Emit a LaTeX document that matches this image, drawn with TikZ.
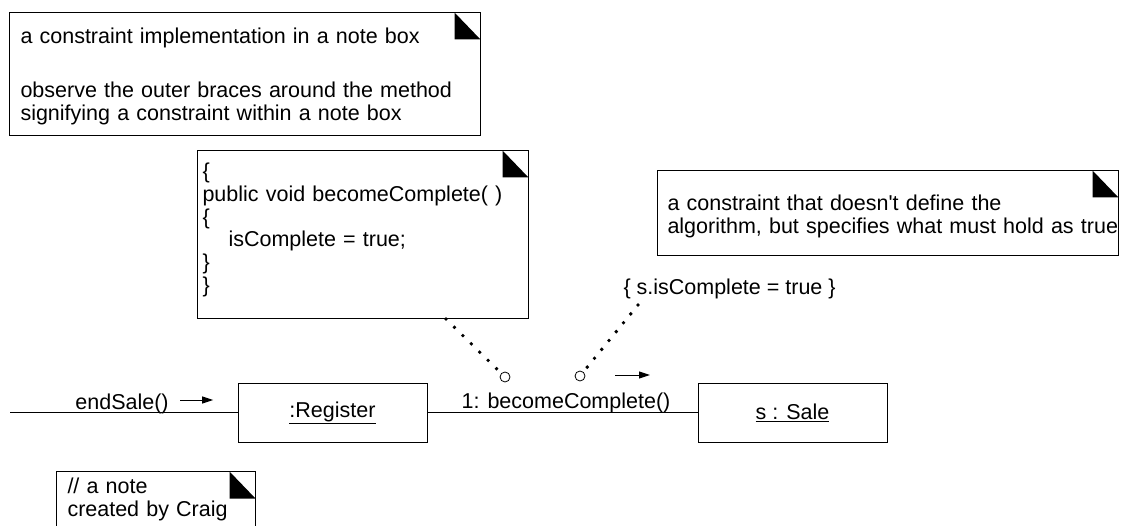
\documentclass[tikz,border=0pt]{standalone}
\usepackage{fontspec}
\setmainfont{Liberation Sans}
\usetikzlibrary{arrows.meta,calc,positioning}

\tikzset{
  every node/.style={font=\fontsize{21.5pt}{22.8pt}\selectfont},
  note/.style={draw, anchor=north west, inner ysep=0pt, align=left,
    path picture={\fill (path picture bounding box.north east) ++(-26pt,0pt)
      -- ++(0pt,-27pt) -- ++(26pt,0pt) -- cycle;}},
  object/.style={draw, minimum width=189pt, minimum height=59pt, inner sep=0pt},
  lbl/.style={inner sep=0pt},
  pin/.style={circle, draw, line width=0.8pt, minimum size=10pt, inner sep=0pt}
}

\begin{document}
\begin{tikzpicture}[x=1pt,y=-1pt,line width=1pt,>={Triangle[length=11pt,width=7pt]}]
  \useasboundingbox (0,0) rectangle (1132,526);
  \node[note, text width=449pt, inner xsep=11pt, text height=31pt, text depth=92pt] (implnote) at (9,12)
    {a constraint implementation in a note box\\[31.2pt]
     observe the outer braces around the method\\
     signifying a constraint within a note box};
  \node[note, text width=321pt, inner xsep=5pt, text height=28pt, text depth=140pt] (codenote) at (197,150)
    {\{\\
     public void becomeComplete( )\\
     \{\\
     \hspace*{26pt}isComplete = true;\\
     \}\\
     \}};
  \node[note, text width=441pt, inner xsep=10pt, text height=40pt, text depth=45pt] (holdnote) at (657,170)
    {a constraint that doesn\textquotesingle t define the\\
     \mbox{algorithm, but specifies what must hold as true}};
  \node[note, text width=177pt, inner xsep=11pt, text height=22pt, text depth=70pt] (craignote) at (56,471)
    {// a note\\
     created by Craig};

  \node[object] (register) at (332.5,412.5) {\underline{:Register}};
  \node[object] (sale) at (792.5,412.5) {\underline{s : Sale}};
  \coordinate (entry) at (10,412.5);
  \draw (entry) -- (register);
  \draw (register) -- (sale);

  \node[lbl, anchor=base] (endsale) at (122,409) {endSale()};
  \draw[->] ($(endsale.base east)+(11,-9)$) -- ++(33,0);
  \node[lbl, anchor=base] (callmsg) at (566,408) {1: becomeComplete()};
  \node[lbl, anchor=base west] (constr) at (623,295) {\{ s.isComplete = true \}};

  \node[pin] (pinA) at (505,377) {};
  \node[pin] (pinB) at (580,376) {};
  \draw[->] ($(pinB)+(35,-1)$) -- ++(35,0);
  \coordinate (codefoot) at ($(codenote.south west)+(249,0)$);
  \coordinate (constrfoot) at ($(constr.base west)+(15,10)$);
  \foreach \i in {0,...,6}
    \fill ($(codefoot)!\i/7!(pinA)$) circle (1.9pt);
  \foreach \i in {0,...,7}
    \fill ($(constrfoot)!\i/8!(pinB)$) circle (1.9pt);
\end{tikzpicture}
\end{document}
